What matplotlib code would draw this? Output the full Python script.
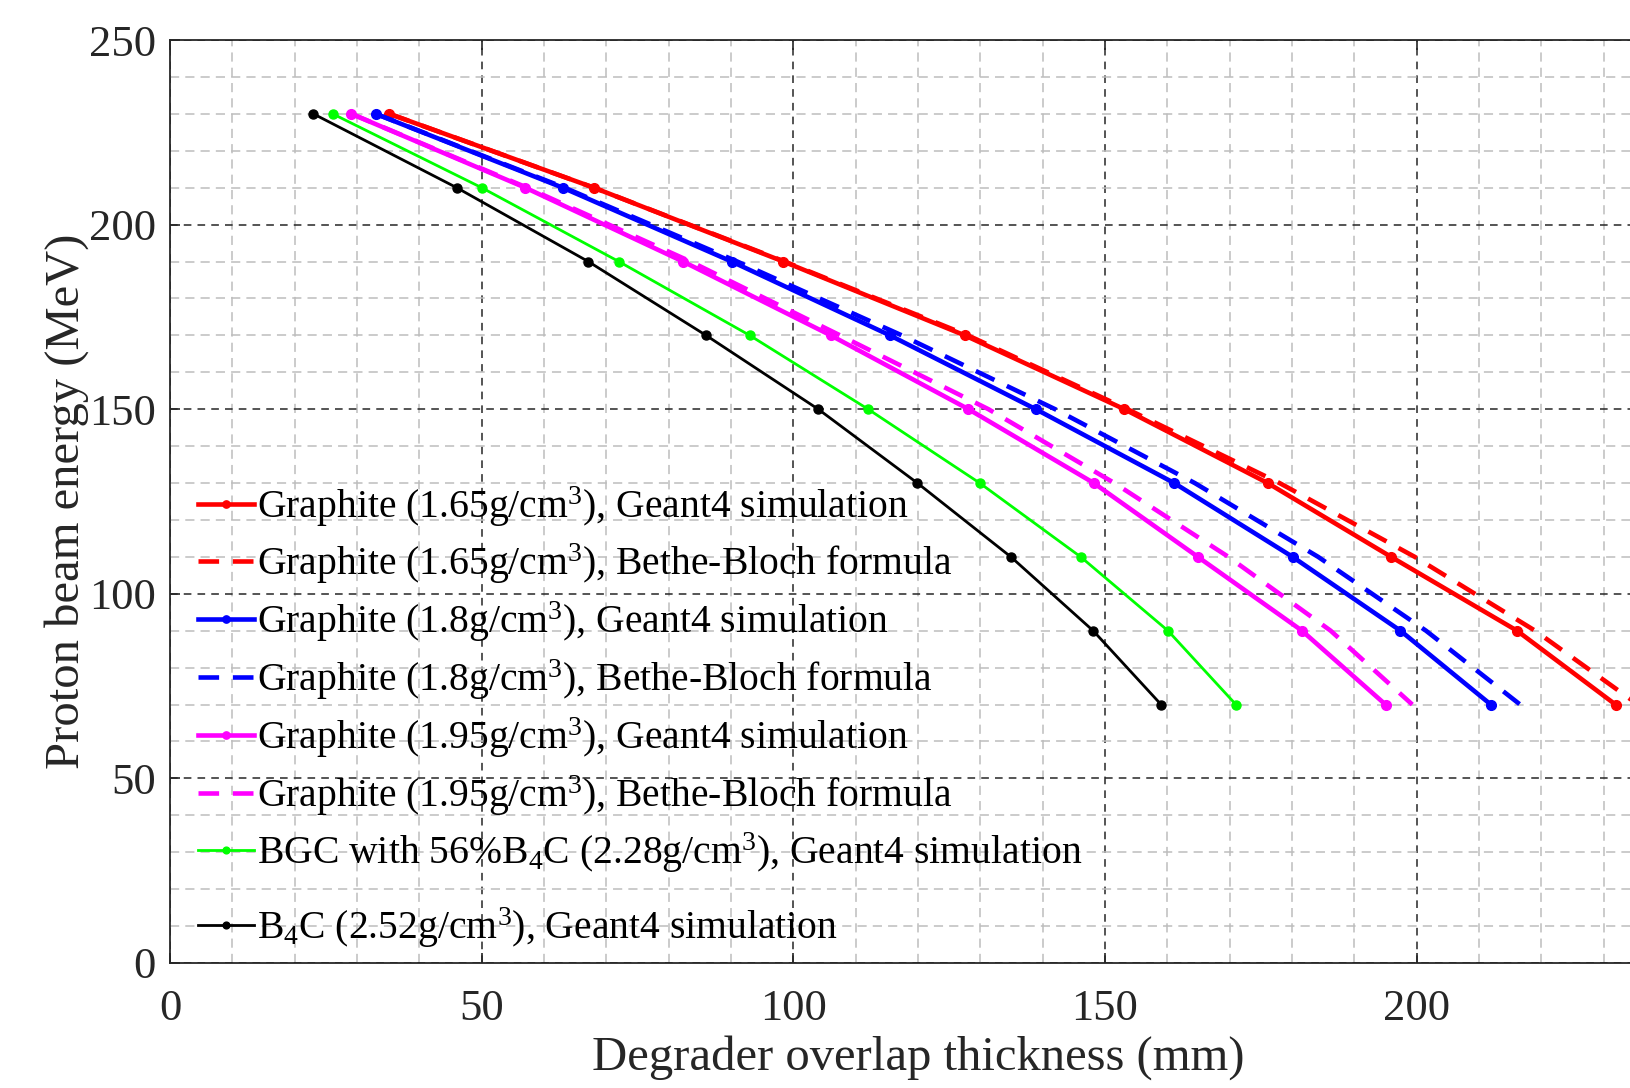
import matplotlib
matplotlib.use("Agg")
import matplotlib.pyplot as plt
from matplotlib.lines import Line2D
from matplotlib.ticker import MultipleLocator

plt.rcParams['font.family'] = ['Liberation Serif', 'DejaVu Serif']
plt.rcParams['mathtext.fontset'] = 'custom'
plt.rcParams['mathtext.rm'] = 'Liberation Serif'
plt.rcParams['mathtext.it'] = 'Liberation Serif:italic'

# ---- data ----
energy = [230, 210, 190, 170, 150, 130, 110, 90, 70]
graphite165_g4 = [35.2, 68.0, 98.4, 127.5, 153.1, 176.1, 195.9, 216.1, 231.9]
graphite165_bb = [35.2, 68.0, 98.6, 128.0, 153.6, 178.0, 199.7, 219.0, 235.5]
graphite18_g4 = [33.0, 63.0, 90.1, 115.5, 138.9, 161.1, 180.1, 197.4, 211.9]
graphite18_bb = [33.0, 63.3, 91.0, 117.4, 142.0, 164.4, 184.2, 201.5, 216.6]
graphite195_g4 = [29.1, 57.0, 82.3, 106.0, 128.1, 148.2, 164.9, 181.6, 195.0]
graphite195_bb = [29.1, 57.3, 83.5, 107.5, 131.3, 151.5, 169.8, 186.2, 199.3]
bgc_g4 = [26.1, 50.0, 72.0, 93.0, 112.0, 129.9, 146.1, 160.1, 171.0]
b4c_g4 = [23.0, 46.0, 67.1, 86.0, 104.0, 119.9, 134.9, 148.1, 159.0]

labels = [
    r'Graphite (1.65g/cm$^{\mathrm{3}}$), Geant4 simulation',
    r'Graphite (1.65g/cm$^{\mathrm{3}}$), Bethe-Bloch formula',
    r'Graphite (1.8g/cm$^{\mathrm{3}}$), Geant4 simulation',
    r'Graphite (1.8g/cm$^{\mathrm{3}}$), Bethe-Bloch formula',
    r'Graphite (1.95g/cm$^{\mathrm{3}}$), Geant4 simulation',
    r'Graphite (1.95g/cm$^{\mathrm{3}}$), Bethe-Bloch formula',
    r'BGC with 56%B$_{\mathrm{4}}$C (2.28g/cm$^{\mathrm{3}}$), Geant4 simulation',
    r'B$_{\mathrm{4}}$C (2.52g/cm$^{\mathrm{3}}$), Geant4 simulation',
]

W, H = 1630, 1088
fig = plt.figure(figsize=(W/100, H/100), dpi=100)
ax_left, ax_right, ax_top, ax_bot = 170, 1666, 40, 963
ax = fig.add_axes([ax_left/W, (H-ax_bot)/H, (ax_right-ax_left)/W, (ax_bot-ax_top)/H])
ax_w = ax_right - ax_left
ax_h = ax_bot - ax_top

thick = 3.3
thin = 2.0
dash = (0, (4.5, 3.0))
series = [
    (graphite165_g4, '#ff0000', '-', thick, 'o', 7),
    (graphite165_bb, '#ff0000', dash, thick, None, 0),
    (graphite18_g4, '#0000ff', '-', thick, 'o', 7),
    (graphite18_bb, '#0000ff', dash, thick, None, 0),
    (graphite195_g4, '#ff00ff', '-', thick, 'o', 7),
    (graphite195_bb, '#ff00ff', dash, thick, None, 0),
    (bgc_g4, '#00ff00', '-', thin, 'o', 6.5),
    (b4c_g4, '#000000', '-', thin, 'o', 6.5),
]
handles = []
for (xs, c, ls, lw, mk, ms), lab in zip(series, labels):
    ax.plot(xs, energy, color=c, linestyle=ls, linewidth=lw,
            marker=mk, markersize=ms)
    handles.append(Line2D([], [], color=c, linestyle=ls, linewidth=lw,
                          marker=mk, markersize=ms * 0.75 if mk else 0))

ax.set_xlim(0, 240)
ax.set_ylim(0, 250)
ax.xaxis.set_major_locator(MultipleLocator(50))
ax.yaxis.set_major_locator(MultipleLocator(50))
ax.xaxis.set_minor_locator(MultipleLocator(10))
ax.yaxis.set_minor_locator(MultipleLocator(10))
ax.grid(which='minor', color='#bdbdbd', linestyle=(0, (6, 4)), linewidth=1.1)
ax.grid(which='major', color='#262626', linestyle=(0, (5, 4)), linewidth=1.1)
ax.set_axisbelow(True)

for s in ['left', 'bottom', 'top', 'right']:
    ax.spines[s].set_color('#262626')
    ax.spines[s].set_linewidth(1.3)

ax.tick_params(which='major', direction='in', length=7, width=1.2,
               top=True, right=True, labelsize=32, colors='#262626')
ax.tick_params(axis='x', which='major', pad=19)
ax.tick_params(axis='y', which='major', pad=10)
ax.tick_params(which='minor', length=0, top=False, right=False)

ax.set_xlabel('Degrader overlap thickness (mm)', fontsize=35, color='#262626', labelpad=4)
ax.set_ylabel('Proton beam energy (MeV)', fontsize=35, color='#262626', labelpad=0)

fs = 28.5
common = dict(frameon=False, fontsize=fs, handlelength=1.42, handletextpad=0.08,
              borderpad=0.0, borderaxespad=0.0)
x_anchor = 27.5 / ax_w
leg1 = ax.legend(handles[:7], labels[:7], loc='center left',
                 bbox_to_anchor=(x_anchor, (ax_bot - 679.7) / ax_h),
                 labelspacing=0.336, **common)
for t in leg1.get_texts():
    t.set_color('#000000')
ax.add_artist(leg1)
leg2 = ax.legend(handles[7:], labels[7:], loc='center left',
                 bbox_to_anchor=(x_anchor, (ax_bot - 927.3) / ax_h), **common)
for t in leg2.get_texts():
    t.set_color('#000000')

fig.savefig('out.png', dpi=100)
